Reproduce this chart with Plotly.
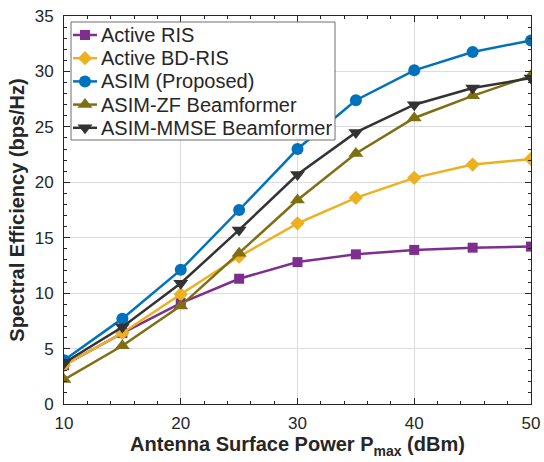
import math
import plotly.graph_objects as go

# Antenna surface power (dBm)
p_max = [10, 15, 20, 25, 30, 35, 40, 45, 50]

# Spectral efficiency (bps/Hz) per scheme
active_ris = [3.5, 6.4, 9.1, 11.3, 12.8, 13.5, 13.9, 14.1, 14.2]
active_bd_ris = [3.5, 6.4, 9.9, 13.3, 16.3, 18.6, 20.4, 21.6, 22.1]
asim_proposed = [3.95, 7.7, 12.1, 17.5, 23.0, 27.4, 30.1, 31.75, 32.8]
asim_zf = [2.2, 5.25, 8.85, 13.6, 18.4, 22.6, 25.8, 27.8, 29.6]
asim_mmse = [3.7, 6.95, 10.9, 15.7, 20.7, 24.5, 27.0, 28.5, 29.4]

series = [
    ("Active RIS", active_ris, "#7E2F8E", "square", 10),
    ("Active BD-RIS", active_bd_ris, "#EDB120", "diamond", 11),
    ("ASIM (Proposed)", asim_proposed, "#0072BD", "circle", 12),
    ("ASIM-ZF Beamformer", asim_zf, "#7E6F14", "triangle-up", 13),
    ("ASIM-MMSE Beamformer", asim_mmse, "#333333", "triangle-down", 13),
]

FONT = "Liberation Sans, Arial, Helvetica"
W, H = 544, 462
ML, MR, MT, MB = 64, 13, 16, 58
PW, PH = W - ML - MR, H - MT - MB

fig = go.Figure()
for name, vals, color, symbol, size in series:
    fig.add_trace(go.Scatter(
        x=p_max, y=vals, name=name, mode="lines+markers", showlegend=False,
        line=dict(color=color, width=2.5),
        marker=dict(symbol=symbol, size=size, color=color, line=dict(width=0)),
    ))

axis_common = dict(
    showline=True, linecolor="#262626", linewidth=1, mirror="allticks",
    ticks="inside", ticklen=6, tickcolor="#262626",
    showgrid=True, gridcolor="#DCDCDC", gridwidth=1,
    zeroline=False, automargin=False,
    tickfont=dict(family=FONT, size=17, color="#262626"),
)

fig.update_xaxes(
    range=[10, 50], tickvals=[10, 20, 30, 40, 50],
    minor=dict(dtick=2, ticks="inside", ticklen=3, tickcolor="#262626", showgrid=False),
    ticklabelstandoff=4,
    title=dict(text="<b>Antenna Surface Power P<sub>max</sub> (dBm)</b>",
               font=dict(family=FONT, size=20, color="#262626"),
               standoff=2),
    **axis_common,
)
fig.update_yaxes(
    range=[0, 35], tickvals=[0, 5, 10, 15, 20, 25, 30, 35],
    minor=dict(dtick=1, ticks="inside", ticklen=3, tickcolor="#262626", showgrid=False),
    ticklabelstandoff=6,
    title=dict(text="<b>Spectral Efficiency (bps/Hz)</b>",
               font=dict(family=FONT, size=20, color="#262626"),
               standoff=4),
    **axis_common,
)


# ---- boxed legend drawn with shapes and annotations ----
def px_x(px):
    return (px - ML) / PW


def px_y(py):
    return (MT + PH - py) / PH


def glyph_points(symbol, size):
    """Polygon vertices (pixels, centred on 0,0, y up) for a marker glyph."""
    r = size / 2
    rt = r * 2 / math.sqrt(3)
    return {
        "square": [(-r, -r), (r, -r), (r, r), (-r, r)],
        "diamond": [(-1.3 * r, 0), (0, 1.3 * r), (1.3 * r, 0), (0, -1.3 * r)],
        "triangle-up": [(-rt, -r / 2), (rt, -r / 2), (0, r)],
        "triangle-down": [(-rt, r / 2), (rt, r / 2), (0, -r)],
    }[symbol]


LEG_LEFT, LEG_RIGHT, LEG_TOP, LEG_BOTTOM = 71, 335, 22, 140
ROW0, ROW_STEP = 35, 23.2
SAMPLE_X0, SAMPLE_X1, TEXT_X = 73, 97, 99

shapes = [dict(
    type="rect", xref="paper", yref="paper", layer="above",
    x0=px_x(LEG_LEFT), x1=px_x(LEG_RIGHT), y0=px_y(LEG_BOTTOM), y1=px_y(LEG_TOP),
    fillcolor="white", line=dict(color="#6E6E6E", width=1),
)]
annotations = []
for i, (name, vals, color, symbol, size) in enumerate(series):
    cy = ROW0 + i * ROW_STEP
    shapes.append(dict(
        type="line", xref="paper", yref="paper", layer="above",
        x0=px_x(SAMPLE_X0), x1=px_x(SAMPLE_X1), y0=px_y(cy), y1=px_y(cy),
        line=dict(color=color, width=2.5),
    ))
    cx = px_x((SAMPLE_X0 + SAMPLE_X1) / 2)
    if symbol == "circle":
        r = size / 2
        shapes.append(dict(
            type="circle", xref="paper", yref="paper", layer="above",
            xsizemode="pixel", ysizemode="pixel", xanchor=cx, yanchor=px_y(cy),
            x0=-r, x1=r, y0=-r, y1=r, fillcolor=color, line=dict(width=0),
        ))
    else:
        pts = glyph_points(symbol, size)
        path = "M" + "L".join(f"{x:.2f},{y:.2f}" for x, y in pts) + "Z"
        shapes.append(dict(
            type="path", xref="paper", yref="paper", layer="above",
            xsizemode="pixel", ysizemode="pixel", xanchor=cx, yanchor=px_y(cy),
            path=path, fillcolor=color, line=dict(width=0),
        ))
    annotations.append(dict(
        text=name, xref="paper", yref="paper", x=px_x(TEXT_X), y=px_y(cy),
        xanchor="left", yanchor="middle", showarrow=False,
        font=dict(family=FONT, size=20, color="#262626"),
    ))

fig.update_layout(
    width=W, height=H,
    margin=dict(l=ML, r=MR, t=MT, b=MB),
    paper_bgcolor="white", plot_bgcolor="white",
    showlegend=False,
    shapes=shapes, annotations=annotations,
)

fig.write_html("out.html")
